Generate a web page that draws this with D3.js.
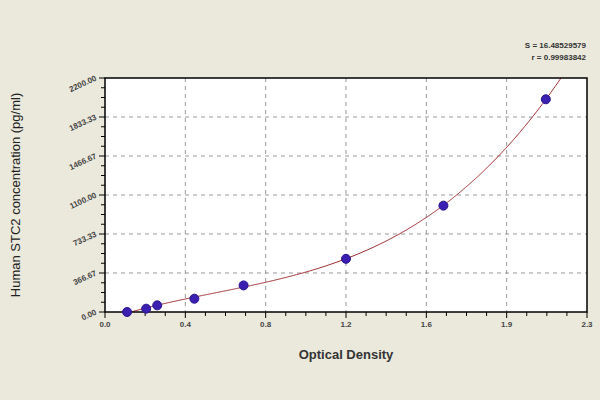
<!DOCTYPE html><html><head><script src="https://cdn.jsdelivr.net/npm/d3@7"></script>
<style>body{margin:0;background:#ebe9dc}</style></head><body><svg width="600" height="400"></svg>
<script>
const od=[0.11,0.205,0.26,0.445,0.69,1.2,1.685,2.195];
const conc=[0,31.25,62.5,125,250,500,1000,2000];
const yTicks=[0,366.67,733.33,1100,1466.67,1833.33,2200];
const yLabels=["0.00","366.67","733.33","1100.00","1466.67","1833.33","2200.00"];
const xTicks=[0,0.4,0.8,1.2,1.6,2.0,2.4];
const xLabels=["0.0","0.4","0.8","1.2","1.6","1.9","2.3"];
const svg=d3.select("svg");
svg.append("rect").attr("width",600).attr("height",400).attr("fill","#ebe9dc");
const L=105,R=587,T=78,B=312;
const x=d3.scaleLinear().domain([0,2.4]).range([L,R]);
const y=d3.scaleLinear().domain([0,2200]).range([B,T]);
svg.append("rect").attr("x",L).attr("y",T).attr("width",R-L).attr("height",B-T).attr("fill","#fff");
const g=svg.append("g");
xTicks.slice(1,-1).forEach(v=>g.append("line").attr("x1",x(v)).attr("x2",x(v)).attr("y1",T).attr("y2",B).attr("stroke","#999").attr("stroke-dasharray","4,4"));
yTicks.slice(1,-1).forEach(v=>g.append("line").attr("y1",y(v)).attr("y2",y(v)).attr("x1",L).attr("x2",R).attr("stroke","#999").attr("stroke-dasharray","4,4"));
function fit(xs,ys,d){const n=d+1;const A=[...Array(n)].map(()=>Array(n+1).fill(0));
xs.forEach((xv,k)=>{for(let i=0;i<n;i++){for(let j=0;j<n;j++)A[i][j]+=Math.pow(xv,i+j);A[i][n]+=ys[k]*Math.pow(xv,i);}});
for(let i=0;i<n;i++){let p=i;for(let r=i+1;r<n;r++)if(Math.abs(A[r][i])>Math.abs(A[p][i]))p=r;[A[i],A[p]]=[A[p],A[i]];
for(let r=0;r<n;r++)if(r!==i){const f=A[r][i]/A[i][i];for(let c=i;c<=n;c++)A[r][c]-=f*A[i][c];}}
return A.map((r,i)=>r[n]/r[i]);}
const c=fit(od,conc,3);const f=v=>c.reduce((s,a,i)=>s+a*Math.pow(v,i),0);
const pts=d3.range(0.09,2.4,0.005).map(v=>[v,f(v)]).filter(p=>p[1]<=2200&&p[1]>=0);
svg.append("path").attr("d",d3.line().x(d=>x(d[0])).y(d=>y(d[1]))(pts)).attr("fill","none").attr("stroke","#a0282c").attr("stroke-width",1);
svg.append("rect").attr("x",L).attr("y",T).attr("width",R-L).attr("height",B-T).attr("fill","none").attr("stroke","#000").attr("stroke-width",1.5);
d3.range(0,2.41,0.1).forEach(v=>svg.append("line").attr("x1",x(v)).attr("x2",x(v)).attr("y1",B).attr("y2",B+(Math.abs(v*2.5-Math.round(v*2.5))<1e-6?6:4)).attr("stroke","#000"));
d3.range(0,2201,2200/24).forEach((v,i)=>svg.append("line").attr("x1",L).attr("x2",L-(i%4===0?6:4)).attr("y1",y(v)).attr("y2",y(v)).attr("stroke","#000"));
const fnt="Arial, Liberation Sans, sans-serif";
xTicks.forEach((v,i)=>svg.append("text").attr("x",x(v)).attr("y",B+15).attr("text-anchor","middle").attr("font-family",fnt).attr("font-size",8).attr("font-weight","bold").attr("fill","#444").text(xLabels[i]));
yTicks.forEach((v,i)=>svg.append("text").attr("transform",`translate(${L-8},${y(v)+2}) rotate(-25)`).attr("text-anchor","end").attr("font-family",fnt).attr("font-size",8).attr("font-weight","bold").attr("fill","#444").text(yLabels[i]));
svg.selectAll("circle").data(od).enter().append("circle").attr("cx",d=>x(d)).attr("cy",(d,i)=>y(conc[i])).attr("r",4.5).attr("fill","#3a1fb0").attr("stroke","#2a1590");
svg.append("text").attr("x",(L+R)/2).attr("y",359).attr("text-anchor","middle").attr("font-family",fnt).attr("font-size",13).attr("font-weight","bold").attr("fill","#333").text("Optical Density");
svg.append("text").attr("transform","translate(20,195) rotate(-90)").attr("text-anchor","middle").attr("font-family",fnt).attr("font-size",13).attr("fill","#222").text("Human STC2 concentration (pg/ml)");
svg.append("text").attr("x",586).attr("y",48).attr("text-anchor","end").attr("font-family",fnt).attr("font-size",8).attr("font-weight","bold").attr("fill","#333").text("S = 16.48529579");
svg.append("text").attr("x",586).attr("y",60).attr("text-anchor","end").attr("font-family",fnt).attr("font-size",8).attr("font-weight","bold").attr("fill","#333").text("r = 0.99983842");
</script></body></html>
